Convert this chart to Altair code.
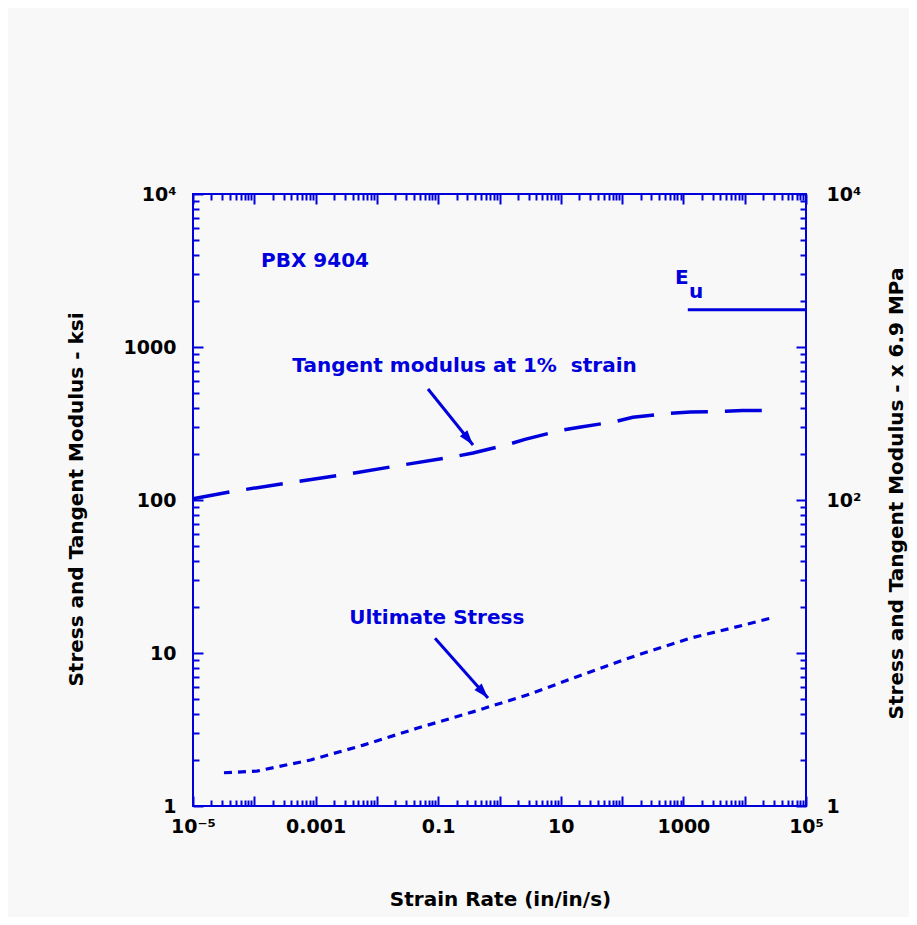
import math
import altair as alt
import pandas as pd

BLUE = "#0000dd"
FONT = "DejaVu Sans"

# ---------------- data ----------------
# Tangent modulus at 1% strain (ksi) vs strain rate (in/in/s)
tm_rate = [1e-5, 4e-5, 3.4e-4, 2.8e-3, 0.021, 0.17, 0.37, 1.3, 2.6, 10, 20, 76, 150, 600, 1300, 4800, 9300, 19000]
tm_ksi = [102, 113, 129, 146, 167, 191, 203, 229, 249, 285, 299, 325, 347, 369, 376, 380, 384, 385]

# Ultimate stress (ksi)
us_rate = [3.2e-5, 1.1e-4, 8.3e-4, 6e-3, 0.045, 0.38, 2.8, 22, 160, 1300, 9500, 30000]
us_ksi = [1.65, 1.69, 2.0, 2.5, 3.22, 4.14, 5.31, 7.18, 9.55, 12.5, 15.2, 17.1]

# E_u level
eu_rate = [1180, 1e5]
eu_ksi = [1750, 1750]

# Axis tick labels
x_label_vals = [1e-5, 1e-3, 0.1, 10, 1000, 1e5]
x_label_txt = ["10\u207b\u2075", "0.001", "0.1", "10", "1000", "10\u2075"]
yl_label_vals = [1, 10, 100, 1000, 10000]
yl_label_txt = ["1", "10", "100", "1000", "10\u2074"]
yr_label_vals = [1, 100, 10000]
yr_label_txt = ["1", "10\u00b2", "10\u2074"]

x_major = [10.0 ** d for d in range(-5, 6)]
x_minor = [k * 10.0 ** d for d in range(-5, 5) for k in range(2, 10)]
y_major = [10.0 ** d for d in range(0, 5)]
y_minor = [k * 10.0 ** d for d in range(0, 4) for k in range(2, 10)]

# Annotations
pbx_pos = ([1.29e-4], [3334], ["PBX 9404"])
tm_lab = ([0.269], [687], ["Tangent modulus at 1%\u00a0 strain"])
us_lab = ([0.0948], [15.5], ["Ultimate Stress"])
e_lab = ([730], [2582], ["E"])
u_lab = ([1233], [2089], ["u"])
arrow_tm = ([0.0682], [531], [0.37], [229])
arrow_us = ([0.0887], [12.5], [0.649], [5.08])

# ---------------- chart ----------------
W, H = 613, 612
XS = alt.Scale(type="log", domain=[1e-5, 1e5], nice=False)
YS = alt.Scale(type="log", domain=[1, 1e4], nice=False)


def label_expr(vals, texts):
    expr = "''"
    for v, t in reversed(list(zip(vals, texts))):
        expr = f"abs(log(datum.value)/LN10 - ({math.log10(v):.4f})) < 0.01 ? '{t}' : {expr}"
    return expr


def tick_axis(vals, size, orient, offset):
    return alt.Axis(orient=orient, offset=offset, values=vals, tickSize=size, tickWidth=2,
                    tickColor=BLUE, ticks=True, labels=False, domain=False, grid=False, title=None)


ax_bottom = alt.Axis(orient="bottom", values=x_label_vals, labelExpr=label_expr(x_label_vals, x_label_txt),
                     ticks=False, tickSize=0, domain=False, grid=False, labelPadding=11,
                     labelFlush=False, labelOverlap=False,
                     title="Strain Rate (in/in/s)", titleX=307, titleY=99, titleAngle=0,
                     titleAlign="center", titleBaseline="alphabetic")
ax_left = alt.Axis(orient="left", values=yl_label_vals, labelExpr=label_expr(yl_label_vals, yl_label_txt),
                   ticks=False, tickSize=0, domain=False, grid=False, labelPadding=17,
                   labelFlush=False, labelOverlap=False,
                   title="Stress and Tangent Modulus - ksi", titleX=-111, titleY=305, titleAngle=270,
                   titleAlign="center", titleBaseline="alphabetic")
ax_right = alt.Axis(orient="right", values=yr_label_vals, labelExpr=label_expr(yr_label_vals, yr_label_txt),
                    ticks=False, tickSize=0, domain=False, grid=False, labelPadding=20,
                    labelFlush=False, labelOverlap=False,
                    title="Stress and Tangent Modulus - x 6.9 MPa", titleX=96, titleY=299, titleAngle=270,
                    titleAlign="center", titleBaseline="alphabetic")


def xy(xaxis, yaxis):
    return dict(x=alt.X("rate:Q", scale=XS, axis=xaxis), y=alt.Y("ksi:Q", scale=YS, axis=yaxis))


df_tm = pd.DataFrame({"rate": tm_rate, "ksi": tm_ksi})
df_us = pd.DataFrame({"rate": us_rate, "ksi": us_ksi})
df_eu = pd.DataFrame({"rate": eu_rate, "ksi": eu_ksi})

tangent = alt.Chart(df_tm).mark_line(color=BLUE, strokeWidth=3.5, strokeDash=[37, 17]).encode(
    **xy(ax_bottom, ax_left))
ultimate = alt.Chart(df_us).mark_line(color=BLUE, strokeWidth=3.2, strokeDash=[8, 6]).encode(
    **xy(tick_axis(x_major, 10, "top", -H), tick_axis(y_major, 10, "right", -W)))
eu = alt.Chart(df_eu).mark_line(color=BLUE, strokeWidth=3).encode(
    **xy(tick_axis(x_minor, 6, "top", -H), tick_axis(y_minor, 6, "right", -W)))


def text_layer(spec, align, xaxis=None, yaxis=None):
    df = pd.DataFrame({"rate": spec[0], "ksi": spec[1], "t": spec[2]})
    return alt.Chart(df).mark_text(align=align, baseline="alphabetic", font=FONT, fontSize=20,
                                   fontWeight="bold", color=BLUE).encode(
        **xy(xaxis, yaxis), text="t:N")


pbx = text_layer(pbx_pos, "left", tick_axis(x_major, 10, "bottom", -H), tick_axis(y_major, 10, "left", -W))
tm_text = text_layer(tm_lab, "center", tick_axis(x_minor, 6, "bottom", -H), tick_axis(y_minor, 6, "left", -W))
us_text = text_layer(us_lab, "center", None, ax_right)
e_text = text_layer(e_lab, "left")
u_text = text_layer(u_lab, "left")

HEAD = "M0,0 L-0.32,1 L0.32,1 Z"


def arrow(spec, angle):
    df = pd.DataFrame({"rate": spec[0], "ksi": spec[1], "rate2": spec[2], "ksi2": spec[3]})
    shaft = alt.Chart(df).mark_rule(color=BLUE, strokeWidth=3).encode(
        x=alt.X("rate:Q", scale=XS, axis=None), y=alt.Y("ksi:Q", scale=YS, axis=None),
        x2="rate2:Q", y2="ksi2:Q")
    head = alt.Chart(df).mark_point(shape=HEAD, size=900, angle=angle, filled=True, color=BLUE,
                                    opacity=1, strokeWidth=0).encode(
        x=alt.X("rate2:Q", scale=XS, axis=None), y=alt.Y("ksi2:Q", scale=YS, axis=None))
    return [shaft, head]


layers = [tangent, ultimate, eu, pbx, tm_text, us_text, e_text, u_text] + arrow(arrow_tm, 141) + arrow(arrow_us, 138.5)

chart = alt.layer(*layers).resolve_scale(x="independent", y="independent").properties(
    width=W, height=H,
    autosize=alt.AutoSizeParams(type="none"),
    padding={"left": 185, "top": 186, "right": 103, "bottom": 111},
    background="#f8f8f8",
).configure_view(stroke=BLUE, strokeWidth=2).configure_axis(
    labelFont=FONT, labelFontSize=19, labelFontWeight="bold", labelColor="black",
    titleFont=FONT, titleFontSize=20, titleFontWeight="bold", titleColor="black",
)

chart.save("out.html", embed_options={"renderer": "svg", "actions": False})
